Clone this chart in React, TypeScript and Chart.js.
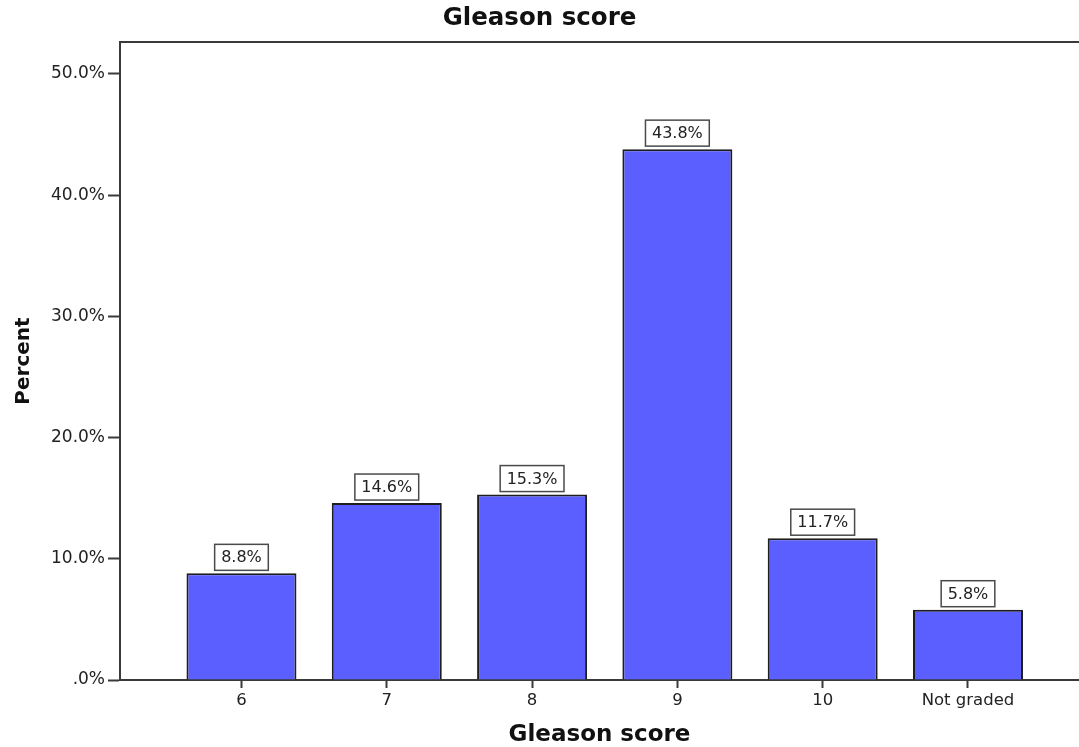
import React, { useEffect, useRef } from "react";
import { Chart, registerables } from "chart.js";

Chart.register(...registerables);

const categories = ["6", "7", "8", "9", "10", "Not graded"];
const percentValues = [8.8, 14.6, 15.3, 43.8, 11.7, 5.8];
const yTickValues = [0, 10, 20, 30, 40, 50];

const FONT = "'DejaVu Sans', Verdana, sans-serif";
const BAR_COLOR = "#5b5fff";
const AXIS_COLOR = "#3a3a3a";

const topBorderPlugin = {
  id: "topBorder",
  afterDraw(chart: any) {
    const { ctx, chartArea } = chart;
    ctx.save();
    ctx.strokeStyle = AXIS_COLOR;
    ctx.lineWidth = 2;
    ctx.beginPath();
    ctx.moveTo(chartArea.left - 1, chartArea.top);
    ctx.lineTo(chart.width, chartArea.top);
    ctx.stroke();
    ctx.restore();
  },
};

const labelBoxPlugin = {
  id: "labelBoxes",
  afterDatasetsDraw(chart: any) {
    const { ctx } = chart;
    const meta = chart.getDatasetMeta(0);
    ctx.save();
    ctx.font = `16px ${FONT}`;
    ctx.textAlign = "center";
    ctx.textBaseline = "middle";
    meta.data.forEach((bar: any, i: number) => {
      const text = percentValues[i].toFixed(1) + "%";
      const tw = ctx.measureText(text).width;
      const w = tw + 13;
      const h = 26;
      const x = bar.x - w / 2;
      const y = bar.y - 3 - h;
      ctx.fillStyle = "#ffffff";
      ctx.fillRect(x, y, w, h);
      ctx.strokeStyle = "#4a4a4a";
      ctx.lineWidth = 1.5;
      ctx.strokeRect(x, y, w, h);
      ctx.fillStyle = "#222222";
      ctx.fillText(text, bar.x, y + h / 2 + 1);
    });
    ctx.restore();
  },
};

export default function App() {
  const canvasRef = useRef<HTMLCanvasElement | null>(null);

  useEffect(() => {
    if (!canvasRef.current) return;
    const chart = new Chart(canvasRef.current, {
      type: "bar",
      data: {
        datasets: [
          {
            data: percentValues.map((v, i) => ({ x: i, y: v })),
            backgroundColor: BAR_COLOR,
            borderColor: "#1e1e1e",
            borderWidth: 2,
            categoryPercentage: 1,
            barPercentage: 0.757,
          },
        ],
      },
      options: {
        responsive: false,
        animation: false,
        devicePixelRatio: 1,
        layout: { padding: { left: 0, right: 0, top: 0, bottom: 0 } },
        plugins: {
          legend: { display: false },
          tooltip: { enabled: false },
          title: {
            display: true,
            text: "Gleason score",
            color: "#111",
            font: { family: FONT, size: 24.5, weight: "bold", lineHeight: 1.2 },
            padding: { top: 4.4, bottom: 8.2 },
          },
        },
        scales: {
          x: {
            type: "linear",
            min: -0.836,
            max: 5.764,
            offset: false,
            afterBuildTicks: (scale: any) => {
              scale.ticks = categories.map((_, i) => ({ value: i }));
            },
            afterFit: (scale: any) => {
              scale.height = 67;
            },
            ticks: {
              autoSkip: false,
              maxRotation: 0,
              padding: 3,
              color: "#222",
              font: { family: FONT, size: 16.5 },
              callback: (v: any) => categories[Math.round(Number(v))] ?? "",
            },
            grid: {
              offset: false,
              drawOnChartArea: false,
              drawTicks: true,
              tickLength: 8,
              tickColor: AXIS_COLOR,
              tickWidth: 2,
            },
            border: { display: true, color: AXIS_COLOR, width: 2 },
            title: {
              display: true,
              text: "Gleason score",
              color: "#111",
              font: { family: FONT, size: 23, weight: "bold", lineHeight: 1 },
              padding: { top: 0, bottom: 0 },
            },
          },
          y: {
            type: "linear",
            min: 0,
            max: 52.64,
            afterBuildTicks: (scale: any) => {
              scale.ticks = yTickValues.map((v) => ({ value: v }));
            },
            afterFit: (scale: any) => {
              scale.width = 120;
            },
            ticks: {
              padding: 3,
              color: "#222",
              font: { family: FONT, size: 17 },
              callback: (v: any) => (Number(v) === 0 ? ".0%" : Number(v).toFixed(1) + "%"),
            },
            grid: {
              drawOnChartArea: false,
              drawTicks: true,
              tickLength: 12,
              tickColor: AXIS_COLOR,
              tickWidth: 2,
            },
            border: { display: true, color: AXIS_COLOR, width: 2 },
            title: {
              display: true,
              text: "Percent",
              color: "#111",
              font: { family: FONT, size: 20, weight: "bold", lineHeight: 1.2 },
              padding: { top: 12, bottom: 0 },
            },
          },
        },
      },
      plugins: [topBorderPlugin, labelBoxPlugin],
    } as any);
    return () => chart.destroy();
  }, []);

  return (
    <div style={{ position: "absolute", left: 0, top: 0, width: 1079, height: 747, background: "#fff" }}>
      <canvas ref={canvasRef} width={1079} height={747} style={{ display: "block" }} />
    </div>
  );
}
